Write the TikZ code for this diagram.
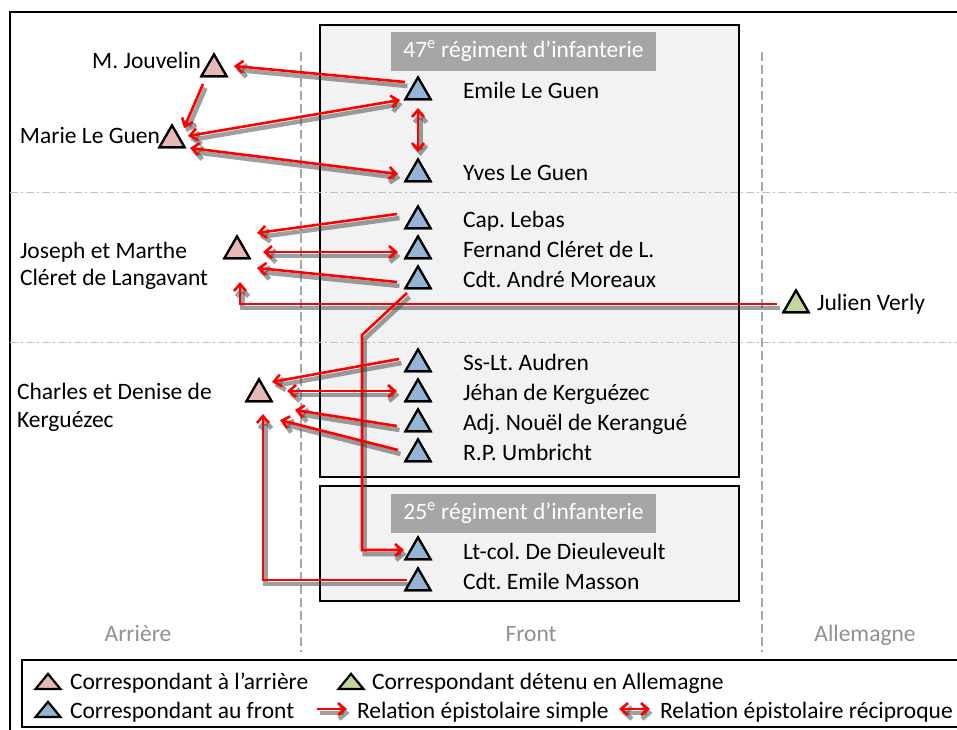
\documentclass[tikz,border=0pt]{standalone}
\usepackage{fontspec}
\setmainfont{Carlito}
\usetikzlibrary{shapes.geometric,arrows.meta,calc}
\definecolor{tpink}{HTML}{E6B9B8}
\definecolor{tblue}{HTML}{95B3D7}
\definecolor{tgreen}{HTML}{C3D69B}
\definecolor{boxfill}{HTML}{F2F2F2}
\definecolor{titlegray}{HTML}{A6A6A6}
\definecolor{colgray}{HTML}{909090}
\definecolor{dashgray}{HTML}{A6A6A6}
\definecolor{dotgray}{HTML}{BFBFBF}
\frenchspacing
\begin{document}
\begin{tikzpicture}[x=1pt,y=-1pt,
  tri/.style={regular polygon, regular polygon sides=3, draw=black, line width=2.2pt, minimum size=29pt, inner sep=0pt, outer sep=0pt},
  ptri/.style={tri, fill=tpink},
  btri/.style={tri, fill=tblue},
  gtri/.style={tri, fill=tgreen},
  lbl/.style={font=\fontsize{23.5}{28}\selectfont, inner sep=0pt, outer sep=0pt},
  title/.style={lbl, fill=titlegray, text=white, minimum width=265pt, minimum height=39pt},
  shad/.style={preaction={draw=black!75, draw opacity=0.5, line width=4.5pt, transform canvas={shift={(2.5pt,-4pt)}}}},
  rel/.style={draw=red, line width=2.6pt, -{Straight Barb[length=7pt,width=12pt]}, shad},
  rel2/.style={rel, {Straight Barb[length=7pt,width=12pt]}-{Straight Barb[length=7pt,width=12pt]}},
  regbox/.style={draw=black, line width=2pt, fill=boxfill},
  vsep/.style={draw=dashgray, line width=2.8pt, dash pattern=on 9pt off 4pt},
  hsep/.style={draw=dotgray, line width=1pt, dash pattern=on 8pt off 3pt on 2pt off 3pt},
]
\useasboundingbox (0,0) rectangle (957,729);
\fill[white] (0,0) rectangle (957,729);

% outer frame
\draw[line width=2pt] (965,12) -- (10,12) -- (10,735);

% regiment boxes
\draw[regbox] (320,25) rectangle (739,477);
\draw[regbox] (320,486) rectangle (739,601);

% separators
\draw[hsep] (10,192) -- (957,192);
\draw[hsep] (10,342) -- (957,342);
\draw[vsep] (301,52) -- (301,652);
\draw[vsep] (762,52) -- (762,652);

% titles
\node[title] (t47) at (523.5,51.5) {47\textsuperscript{e} régiment d’infanterie};
\node[title] (t25) at (523.5,513.5) {25\textsuperscript{e} régiment d’infanterie};

% column labels
\node[lbl, text=colgray, anchor=base] (carr) at (138,641) {Arrière};
\node[lbl, text=colgray, anchor=base] (cfront) at (531,641) {Front};
\node[lbl, text=colgray, anchor=base] (calle) at (865,641) {Allemagne};

% triangles
\node[ptri] (jouv) at (214,69) {};
\node[ptri] (marie) at (172,140) {};
\node[ptri] (joseph) at (237,251) {};
\node[ptri] (charles) at (259,394) {};
\node[gtri] (julien) at (796,305) {};
\node[btri] (emile) at (418,92) {};
\node[btri] (yves) at (418,174) {};
\node[btri] (lebas) at (418,221) {};
\node[btri] (fern) at (418,251) {};
\node[btri] (mor) at (418,281) {};
\node[btri] (audren) at (418,364) {};
\node[btri] (jehan) at (418,394) {};
\node[btri] (nouel) at (418,424) {};
\node[btri] (umb) at (418,454) {};
\node[btri] (dieu) at (418,552) {};
\node[btri] (masson) at (418,583) {};

% labels
\node[lbl, anchor=base east] (ljouv) at (201,68) {M. Jouvelin};
\node[lbl, anchor=base east] (lmarie) at (160,143) {Marie Le Guen};
\node[lbl, anchor=base west] (ljos1) at (20,258) {Joseph et Marthe};
\node[lbl, anchor=base west] (ljos2) at (20,285) {Cléret de Langavant};
\node[lbl, anchor=base west] (lcha1) at (17,399) {Charles et Denise de};
\node[lbl, anchor=base west] (lcha2) at (17,427) {Kerguézec};
\node[lbl, anchor=base west] (ljul) at (817,310) {Julien Verly};
\node[lbl, anchor=base west] (lemile) at (463,98) {Emile Le Guen};
\node[lbl, anchor=base west] (lyves) at (463,180) {Yves Le Guen};
\node[lbl, anchor=base west] (llebas) at (463,227) {Cap. Lebas};
\node[lbl, anchor=base west] (lfern) at (463,257) {Fernand Cléret de L.};
\node[lbl, anchor=base west] (lmor) at (463,287) {Cdt. André Moreaux};
\node[lbl, anchor=base west] (laud) at (463,370) {Ss-Lt. Audren};
\node[lbl, anchor=base west] (ljeh) at (463,400) {Jéhan de Kerguézec};
\node[lbl, anchor=base west] (lnou) at (463,430) {Adj. Nouël de Kerangué};
\node[lbl, anchor=base west] (lumb) at (463,460) {R.P. Umbricht};
\node[lbl, anchor=base west] (ldieu) at (463,559) {Lt-col. De Dieuleveult};
\node[lbl, anchor=base west] (lmas) at (463,589) {Cdt. Emile Masson};

% relations
\draw[rel] ([shift={(-13,-10)}]emile.center) -- ([shift={(20,-3)}]jouv.center);
\draw[rel2] ([shift={(16,-4)}]marie.center) -- ([shift={(-18,8)}]emile.center);
\draw[rel] ([shift={(-11,15)}]jouv.center) -- ([shift={(12,-12)}]marie.center);
\draw[rel2] ([shift={(0,16)}]emile.center) -- ([shift={(0,-22)}]yves.center);
\draw[rel2] ([shift={(18,8)}]marie.center) -- ([shift={(-20,0)}]yves.center);
\draw[rel] ([shift={(-21,-7)}]lebas.center) -- ([shift={(20,-18)}]joseph.center);
\draw[rel2] ([shift={(26,1)}]joseph.center) -- ([shift={(-20,1)}]fern.center);
\draw[rel] ([shift={(-21,1)}]mor.center) -- ([shift={(20,17)}]joseph.center);
\draw[rel] ([shift={(-19,-1)}]julien.center) -| ([shift={(3,31)}]joseph.center);
\draw[rel] ([shift={(-11,12)}]mor.center) -- ([shift={(-56,54)}]mor.center) |- ([shift={(-14,-2)}]dieu.center);
\draw[rel] ([shift={(-19,-5)}]audren.center) -- ([shift={(13,-12)}]charles.center);
\draw[rel2] ([shift={(28,-3)}]charles.center) -- ([shift={(-21,-3)}]jehan.center);
\draw[rel] ([shift={(-21,2)}]nouel.center) -- ([shift={(36,16)}]charles.center);
\draw[rel] ([shift={(-20,-4)}]umb.center) -- ([shift={(21,26)}]charles.center);
\draw[rel] ([shift={(-11,-3)}]masson.center) -| ([shift={(4,20)}]charles.center);

% redraw triangles on top
\foreach \n/\s in {jouv/ptri,marie/ptri,joseph/ptri,charles/ptri,julien/gtri,emile/btri,yves/btri,lebas/btri,fern/btri,mor/btri,audren/btri,jehan/btri,nouel/btri,umb/btri,dieu/btri,masson/btri}{
  \node[\s] at (\n.center) {};
}

% legend
\draw[line width=2pt, fill=white] (22,660) rectangle (975,727);
\node[ptri, minimum size=29pt, yscale=0.7] (legp) at (48,684) {};
\node[gtri, minimum size=29pt, yscale=0.7] (legg) at (351,684) {};
\node[btri, minimum size=29pt, yscale=0.7] (legb) at (48,712) {};
\node[lbl, anchor=base west] (legpt) at (70,689) {Correspondant à l’arrière};
\node[lbl, anchor=base west] (leggt) at (372,689) {Correspondant détenu en Allemagne};
\node[lbl, anchor=base west] (legbt) at (70,718) {Correspondant au front};
\coordinate (ls1) at (317,709);
\coordinate (ls2) at (347,709);
\draw[rel] (ls1) -- (ls2);
\node[lbl, anchor=base west] (legst) at (357,718) {Relation épistolaire simple};
\coordinate (lr1) at (619,709);
\coordinate (lr2) at (650,709);
\draw[rel2] (lr1) -- (lr2);
\node[lbl, anchor=base west] (legrt) at (660,718) {Relation épistolaire réciproque};
\end{tikzpicture}
\end{document}
